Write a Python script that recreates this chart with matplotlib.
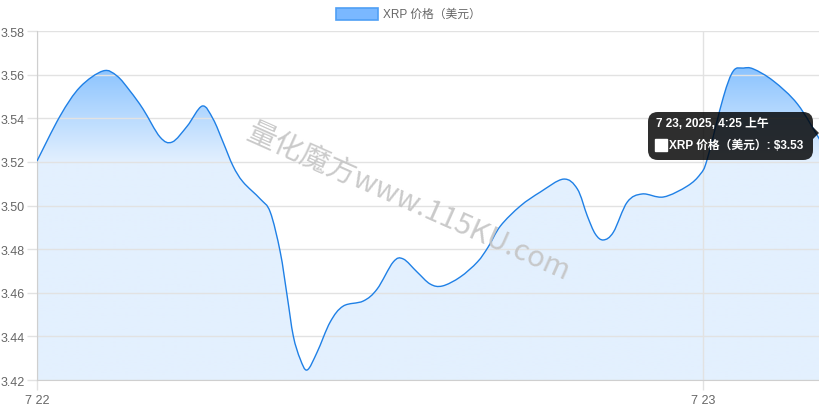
import numpy as np
import matplotlib.pyplot as plt
from matplotlib.path import Path
from matplotlib.patches import PathPatch, FancyBboxPatch, Rectangle, Polygon

plt.rcParams['font.family'] = ['Liberation Sans', 'Noto Sans CJK SC', 'DejaVu Sans']

# hours since 7/22 00:00 and XRP price (USD)
hours = [0.0, 0.83, 1.55, 2.38, 2.88, 3.35, 3.82, 4.43, 4.87, 5.41, 5.95, 6.34,
         6.70, 7.06, 7.42, 8.04, 8.40, 8.76, 9.01, 9.23, 9.48, 9.73, 10.09, 10.56,
         11.03, 11.75, 12.25, 12.83, 13.19, 13.69, 14.16, 14.60, 15.24, 15.86,
         16.25, 16.69, 17.41, 18.13, 18.96, 19.46, 19.82, 20.11, 20.40, 20.76,
         21.26, 21.80, 22.56, 23.42, 23.89, 24.14, 24.72, 25.08, 25.44, 25.80,
         26.52, 27.39, 28.20]
price = [3.5204, 3.5410, 3.5543, 3.5617, 3.5594, 3.5525, 3.5442, 3.5314, 3.5291,
         3.5364, 3.5456, 3.5397, 3.5291, 3.5181, 3.5108, 3.5030, 3.4970, 3.4787,
         3.4585, 3.4402, 3.4296, 3.4246, 3.4328, 3.4466, 3.4539, 3.4562, 3.4617,
         3.4741, 3.4755, 3.4695, 3.4640, 3.4631, 3.4672, 3.4741, 3.4810, 3.4906,
         3.4998, 3.5062, 3.5121, 3.5076, 3.4952, 3.4869, 3.4842, 3.4878, 3.5016,
         3.5053, 3.5039, 3.5089, 3.5144, 3.5213, 3.5497, 3.5617, 3.5630, 3.5626,
         3.5571, 3.5465, 3.5300]

x_ticks = [0, 24]
x_labels = ['7 22', '7 23']
y_ticks = [3.42, 3.44, 3.46, 3.48, 3.50, 3.52, 3.54, 3.56, 3.58]

legend_label = 'XRP 价格（美元）'
tip_title = '7 23, 2025, 4:25 上午'
tip_body = 'XRP 价格（美元）: $3.53'
watermark = '量化魔方www.115KU.com'

line_c = '#1f80e6'
grid_c = '#e2e2e2'
text_c = '#666666'

fig = plt.figure(figsize=(8.2, 4.1), dpi=100)
ax = fig.add_axes([37 / 820, 29 / 410, 783 / 820, 349 / 410])
ymin, ymax = 3.42, 3.58
xmax = hours[-1]
ax.set_xlim(0, xmax)
ax.set_ylim(ymin, ymax)

# smooth curve (catmull-rom -> cubic bezier)
pts = np.column_stack([hours, price])
n = len(pts)
verts = [pts[0]]
codes = [Path.MOVETO]
for i in range(n - 1):
    p0 = pts[max(i - 1, 0)]
    p1 = pts[i]
    p2 = pts[i + 1]
    p3 = pts[min(i + 2, n - 1)]
    c1 = p1 + (p2 - p0) / 6
    c2 = p2 - (p3 - p1) / 6
    verts += [c1, c2, p2]
    codes += [Path.CURVE4] * 3
curve = Path(verts, codes)
ax.add_patch(PathPatch(curve, fill=False, edgecolor=line_c, lw=1.0, zorder=3))

fill_verts = verts + [(xmax, ymin), (0, ymin), (0, ymin)]
fill_codes = codes + [Path.LINETO, Path.LINETO, Path.CLOSEPOLY]
fill_patch = PathPatch(Path(fill_verts, fill_codes), facecolor='none', edgecolor='none')
ax.add_patch(fill_patch)

# gradient fill
yy = np.linspace(ymax, ymin, 300)
t = np.clip((ymax - yy) / 0.06, 0, 1)[:, None]
top = np.array([105, 178, 255]) / 255
bot = np.array([227, 240, 254]) / 255
grad = (top * (1 - t) + bot * t)[:, None, :]
im = ax.imshow(grad, extent=[0, xmax, ymin, ymax], aspect='auto', zorder=0.5,
               interpolation='bilinear')
im.set_clip_path(fill_patch)

ax.set_yticks(y_ticks)
ax.set_yticklabels([f'{v:.2f}' for v in y_ticks])
ax.set_xticks(x_ticks)
ax.set_xticklabels(x_labels)
ax.grid(True, color=grid_c, lw=1.0)
ax.tick_params(axis='both', colors=grid_c, labelcolor=text_c, labelsize=9,
               length=7, width=1.0, pad=2)
ax.tick_params(axis='x', pad=3)
for s in ['top', 'right']:
    ax.spines[s].set_visible(False)
for s in ['left', 'bottom']:
    ax.spines[s].set_color('#cfcfcf')

# legend
fig.patches.append(Rectangle((336 / 820, 1 - 21 / 410), 42 / 820, 12 / 410,
                             transform=fig.transFigure, facecolor='#7ab8ff',
                             edgecolor='#4f9ff5', lw=1.2))
fig.text(383 / 820, 1 - 15 / 410, legend_label, color=text_c, fontsize=8.5,
         va='center', ha='left')

# watermark
fig.text(408 / 820, 1 - 203 / 410, watermark, color='#c4c4c4', fontsize=21,
         rotation=-24, ha='center', va='center', alpha=0.9,
         family=['Noto Sans CJK SC', 'DejaVu Sans'], zorder=5)

# tooltip
tx0, ty0, tw, th = 648, 113, 165, 48
fig.patches.append(FancyBboxPatch((tx0 / 820, 1 - (ty0 + th) / 410), tw / 820, th / 410,
                                  boxstyle='round,pad=0,rounding_size=0.012',
                                  transform=fig.transFigure, facecolor='#000000',
                                  alpha=0.82, edgecolor='none', zorder=10,
                                  mutation_aspect=2.0))
fig.patches.append(Polygon([((tx0 + tw) / 820, 1 - 128 / 410), (819 / 820, 1 - 134 / 410),
                            ((tx0 + tw) / 820, 1 - 140 / 410)], closed=True,
                           transform=fig.transFigure, facecolor='#000000', alpha=0.82,
                           edgecolor='none', zorder=10))
fig.text(656 / 820, 1 - 124 / 410, tip_title, color='white', fontsize=8.5,
         fontweight='bold', va='center', ha='left', zorder=11)
fig.patches.append(Rectangle((655 / 820, 1 - 152 / 410), 12 / 820, 12 / 410,
                             transform=fig.transFigure, facecolor='white',
                             edgecolor='white', zorder=11))
fig.text(669 / 820, 1 - 146 / 410, tip_body, color='white', fontsize=8.5,
         fontweight='bold', va='center', ha='left', zorder=11)

fig.savefig('out.png', dpi=100)
